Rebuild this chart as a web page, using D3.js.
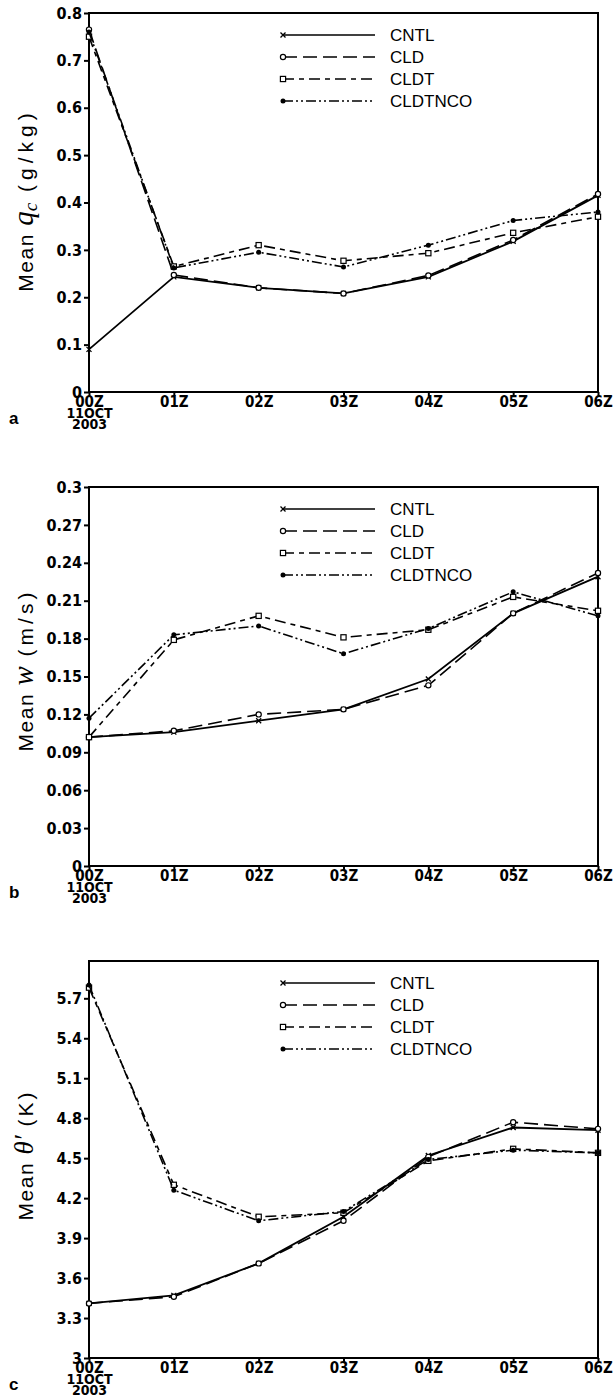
<!DOCTYPE html>
<html>
<head>
<meta charset="utf-8">
<script src="https://cdn.jsdelivr.net/npm/d3@7"></script>
<style>
  body { margin: 0; background: #fff; }
  .tick text { font-family: "Liberation Sans Narrow", "DejaVu Sans Condensed", Arial, sans-serif; font-weight: bold; }
</style>
</head>
<body>
<svg id="fig" width="615" height="1400"></svg>
<script>
const hours = ['00Z', '01Z', '02Z', '03Z', '04Z', '05Z', '06Z'];
const runs = ['CNTL', 'CLD', 'CLDT', 'CLDTNCO'];

// panel a: mean cloud water (g/kg)
const qcCNTL    = [0.09, 0.243, 0.220, 0.208, 0.243, 0.318, 0.415];
const qcCLD     = [0.765, 0.247, 0.220, 0.208, 0.246, 0.321, 0.418];
const qcCLDT    = [0.750, 0.265, 0.310, 0.277, 0.293, 0.336, 0.370];
const qcCLDTNCO = [0.760, 0.262, 0.295, 0.264, 0.310, 0.362, 0.380];

// panel b: mean w (m/s)
const wCNTL    = [0.102, 0.106, 0.115, 0.124, 0.148, 0.200, 0.229];
const wCLD     = [0.102, 0.107, 0.120, 0.124, 0.143, 0.200, 0.232];
const wCLDT    = [0.102, 0.179, 0.198, 0.181, 0.187, 0.213, 0.202];
const wCLDTNCO = [0.117, 0.183, 0.190, 0.168, 0.188, 0.217, 0.198];

// panel c: mean theta' (K)
const thCNTL    = [3.41, 3.47, 3.71, 4.06, 4.52, 4.73, 4.71];
const thCLD     = [3.41, 3.46, 3.71, 4.03, 4.51, 4.77, 4.72];
const thCLDT    = [5.78, 4.30, 4.06, 4.09, 4.48, 4.57, 4.54];
const thCLDTNCO = [5.80, 4.26, 4.03, 4.10, 4.49, 4.56, 4.54];

const qcTicks = [0, 0.1, 0.2, 0.3, 0.4, 0.5, 0.6, 0.7, 0.8];
const wTicks = [0, 0.03, 0.06, 0.09, 0.12, 0.15, 0.18, 0.21, 0.24, 0.27, 0.3];
const thTicks = [3, 3.3, 3.6, 3.9, 4.2, 4.5, 4.8, 5.1, 5.4, 5.7];
const firstTickLines = ['11OCT', '2003'];

const svg = d3.select('#fig');
const left = 89, right = 598;
const sans = 'Liberation Sans, Arial, sans-serif';
const serif = 'Liberation Serif, serif';

const dashes = {CNTL: null, CLD: '14,6', CLDT: '11,5,5,5', CLDTNCO: '10,3,2,3,2,3'};

const x = d3.scalePoint().domain(hours).range([left, right]);

const drawMarker = (sel, run, cx, cy) => {
  if (run === 'CNTL') {
    sel.append('path')
      .attr('d', `M${cx-2.5},${cy-2.5}L${cx+2.5},${cy+2.5}M${cx-2.5},${cy+2.5}L${cx+2.5},${cy-2.5}`)
      .attr('stroke', '#000').attr('stroke-width', 1.3);
  } else if (run === 'CLD') {
    sel.append('circle').attr('cx', cx).attr('cy', cy).attr('r', 2.6)
      .attr('fill', '#fff').attr('stroke', '#000').attr('stroke-width', 1.2);
  } else if (run === 'CLDT') {
    sel.append('rect').attr('x', cx-2.6).attr('y', cy-2.6).attr('width', 5.2).attr('height', 5.2)
      .attr('fill', '#fff').attr('stroke', '#000').attr('stroke-width', 1.2);
  } else {
    sel.append('circle').attr('cx', cx).attr('cy', cy).attr('r', 2.5).attr('fill', '#000');
  }
};

const drawPanel = (cfg) => {
  const g = svg.append('g');
  const y = d3.scaleLinear().domain(cfg.domain).range([cfg.bottom, cfg.top]);
  const fmt = d => d === 0 ? '0' : String(+d.toFixed(2));

  // y axis
  const ya = g.append('g')
    .attr('transform', `translate(${left},0)`)
    .call(d3.axisLeft(y).tickValues(cfg.ticks).tickFormat(fmt).tickSize(5).tickPadding(2));
  ya.select('.domain').remove();
  ya.selectAll('.tick line').attr('stroke-width', 2);
  ya.selectAll('.tick text').attr('font-size', 16).attr('fill', '#000');

  // x axis
  const xa = g.append('g')
    .attr('transform', `translate(0,${cfg.bottom})`)
    .call(d3.axisBottom(x).tickSize(4).tickPadding(0));
  xa.select('.domain').remove();
  xa.selectAll('.tick line').attr('stroke-width', 2);
  xa.selectAll('.tick text').attr('font-size', 15).attr('fill', '#000');
  xa.select('.tick text')
    .each(function() {
      const t = d3.select(this);
      firstTickLines.forEach(s => {
        t.append('tspan').attr('x', 0).attr('dy', 11).attr('font-size', 14).text(s);
      });
    });

  // frame
  g.append('rect')
    .attr('x', left).attr('y', cfg.top)
    .attr('width', right - left).attr('height', cfg.bottom - cfg.top)
    .attr('fill', 'none').attr('stroke', '#000').attr('stroke-width', 2);

  // series
  const line = d3.line().x((d, i) => x(hours[i])).y(d => y(d));
  runs.forEach((run, k) => {
    const vals = cfg.series[k];
    g.append('path')
      .datum(vals)
      .attr('fill', 'none')
      .attr('stroke', '#000')
      .attr('stroke-width', run === 'CNTL' ? 1.8 : 1.6)
      .attr('stroke-dasharray', dashes[run])
      .attr('d', line);
    vals.forEach((v, i) => drawMarker(g, run, x(hours[i]), y(v)));
  });

  // legend
  runs.forEach((run, k) => {
    const ly = cfg.top + 22 + k * 22;
    g.append('line')
      .attr('x1', 283).attr('x2', 375).attr('y1', ly).attr('y2', ly)
      .attr('stroke', '#000').attr('stroke-width', 1.5)
      .attr('stroke-dasharray', dashes[run]);
    drawMarker(g, run, 283, ly);
    g.append('text')
      .attr('x', 390).attr('y', ly + 6)
      .attr('font-family', sans)
      .attr('font-size', 17)
      .text(run);
  });

  // y label
  const lab = g.append('text')
    .attr('transform', `translate(33,${cfg.labelY}) rotate(-90)`)
    .attr('text-anchor', 'middle')
    .attr('font-family', sans)
    .attr('font-size', 21);
  lab.append('tspan').attr('letter-spacing', 1.5).text('Mean ');
  cfg.label(lab);

  // panel letter
  g.append('text')
    .attr('x', 9).attr('y', cfg.bottom + 32)
    .attr('font-family', sans)
    .attr('font-weight', 'bold')
    .attr('font-size', 17)
    .text(cfg.letter);
};

drawPanel({
  top: 13, bottom: 392, domain: [0, 0.8], ticks: qcTicks,
  series: [qcCNTL, qcCLD, qcCLDT, qcCLDTNCO], letter: 'a', labelY: 200,
  label: t => {
    t.append('tspan').attr('font-family', serif).attr('font-style', 'italic').attr('font-size', 29).text(' q');
    t.append('tspan').attr('font-family', serif).attr('font-style', 'italic').attr('font-size', 19).attr('dy', 4).text('c');
    t.append('tspan').attr('dy', -4).attr('letter-spacing', 5).text('  (g/kg)');
  }
});

drawPanel({
  top: 487, bottom: 866, domain: [0, 0.3], ticks: wTicks,
  series: [wCNTL, wCLD, wCLDT, wCLDTNCO], letter: 'b', labelY: 670,
  label: t => {
    t.append('tspan').attr('font-family', serif).attr('font-style', 'italic').attr('font-size', 29).text(' w');
    t.append('tspan').attr('letter-spacing', 4).text('  (m/s)');
  }
});

drawPanel({
  top: 961, bottom: 1358, domain: [3, 5.98], ticks: thTicks,
  series: [thCNTL, thCLD, thCLDT, thCLDTNCO], letter: 'c', labelY: 1155,
  label: t => {
    t.append('tspan').attr('font-family', serif).attr('font-style', 'italic').attr('font-size', 27).text(' θ′');
    t.append('tspan').attr('letter-spacing', 3).text('  (K)');
  }
});
</script>
</body>
</html>
